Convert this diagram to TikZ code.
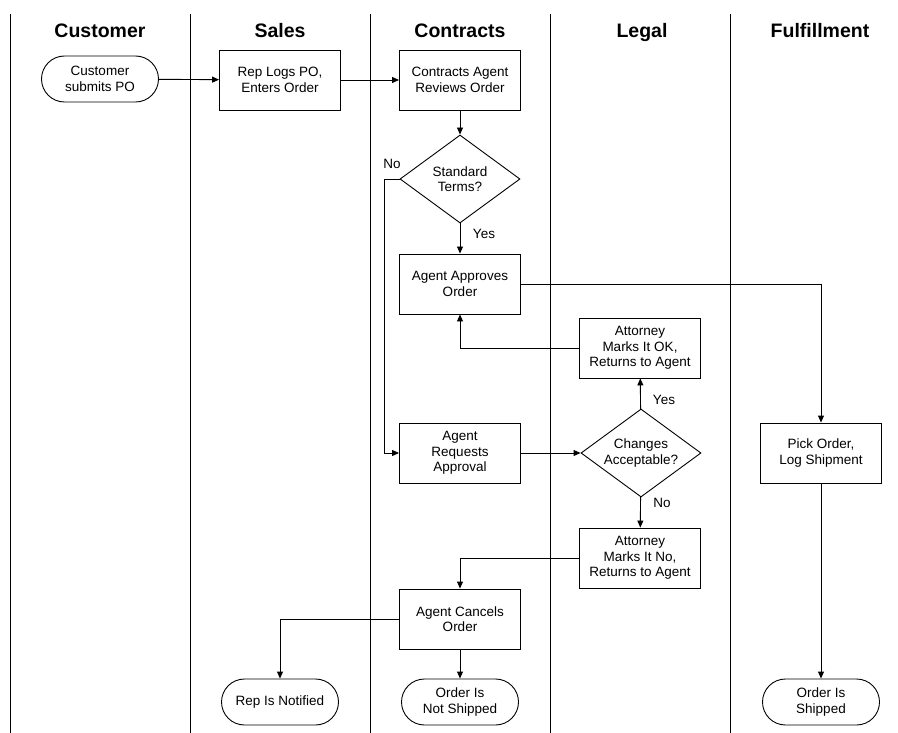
\documentclass[tikz,border=0pt]{standalone}
\usepackage{fontspec}
\setmainfont{Liberation Sans}
\usetikzlibrary{shapes.geometric,shapes.misc,arrows.meta}

\begin{document}
\begin{tikzpicture}[x=1pt,y=-1pt,line width=0.9pt,
        >={Triangle[length=7pt,width=6pt]},
        lanehead/.style={anchor=base,font=\fontsize{19.5}{22}\selectfont\bfseries},
        task/.style={draw,rectangle,align=center,minimum width=121pt,minimum height=60pt,inner sep=2pt,font=\fontsize{13.5}{15.5}\selectfont},
        terminal/.style={draw,rounded rectangle,align=center,minimum width=121pt,minimum height=46pt,inner sep=2pt,font=\fontsize{13.5}{15.5}\selectfont},
        decision/.style={draw,diamond,aspect=1.36,inner sep=0pt,minimum width=120pt,minimum height=88pt,align=center,font=\fontsize{13.5}{15.5}\selectfont},
        answer/.style={font=\fontsize{13.5}{15.5}\selectfont}]
        \useasboundingbox (0,0) rectangle (898,733);

        \draw (10,14) -- (10,733);
        \draw (190,14) -- (190,733);
        \draw (370,14) -- (370,733);
        \draw (550,14) -- (550,733);
        \draw (730,14) -- (730,733);

        \node[lanehead] (hcust) at (100,38) {Customer};
        \node[lanehead] (hsales) at (280,38) {Sales};
        \node[lanehead] (hcontr) at (460,38) {Contracts};
        \node[lanehead] (hlegal) at (642,38) {Legal};
        \node[lanehead] (hfulf) at (820,38) {Fulfillment};

        \node[terminal] (submit) at (100,79) {Customer\\submits PO};
        \node[task] (logs) at (280,80) {Rep Logs PO,\\Enters Order};
        \node[task] (review) at (460,80) {Contracts Agent\\Reviews Order};
        \node[decision] (terms) at (460,179) {Standard\\Terms?};
        \node[task] (approve) at (460,284) {Agent Approves\\Order};
        \node[task] (markok) at (640,348) {Attorney\\Marks It OK,\\Returns to Agent};
        \node[task] (request) at (460,453) {Agent\\Requests\\Approval};
        \node[decision] (changes) at (641,453) {Changes\\Acceptable?};
        \node[task] (markno) at (640,558) {Attorney\\Marks It No,\\Returns to Agent};
        \node[task] (cancel) at (460,619) {Agent Cancels\\Order};
        \node[terminal] (notified) at (280,702) {Rep Is Notified};
        \node[terminal] (notship) at (460,702) {Order Is\\Not Shipped};
        \node[task] (pick) at (821,453) {Pick Order,\\Log Shipment};
        \node[terminal] (shipped) at (821,702) {Order Is\\Shipped};

        \draw[->] (submit) -- (logs);
        \draw[->] (logs) -- (review);
        \draw[->] (review) -- (terms);
        \draw[->] (terms) -- (approve);
        \draw[->] (terms.west) -- ++(-15,0) |- (request.west);
        \draw[->] (approve.east) -| (pick.north);
        \draw[->] (markok.west) -| (approve.south);
        \draw[->] (request) -- (changes);
        \draw[->] (changes) -- (markok);
        \draw[->] (changes) -- (markno);
        \draw[->] (markno.west) -| (cancel.north);
        \draw[->] (cancel.west) -| (notified.north);
        \draw[->] (cancel) -- (notship);
        \draw[->] (pick) -- (shipped);

        \node[answer] (noterms) at (392,164) {No};
        \node[answer] (yesterms) at (484,234) {Yes};
        \node[answer] (yeschg) at (664,400) {Yes};
        \node[answer] (nochg) at (662,503) {No};
    \end{tikzpicture}
\end{document}
